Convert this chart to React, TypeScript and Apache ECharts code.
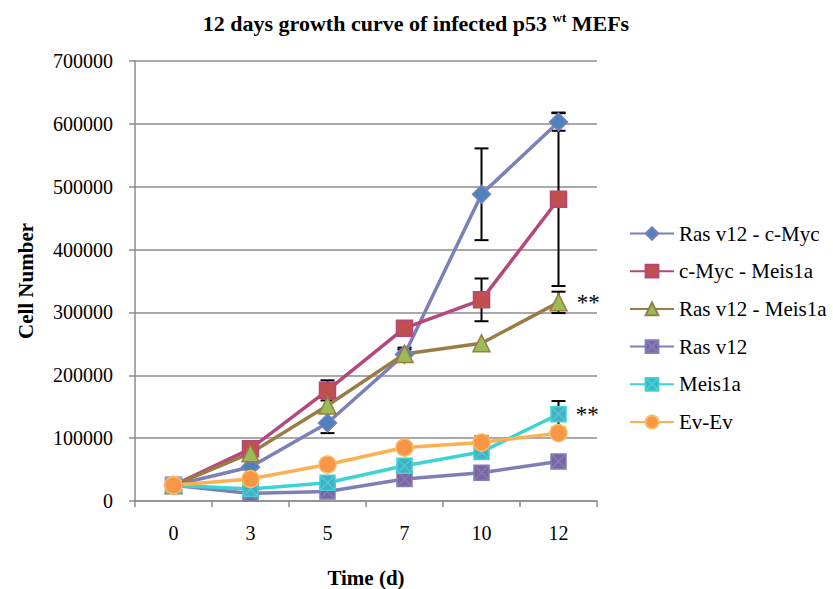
import React, { useEffect, useRef } from "react";
import * as echarts from "echarts";

const days = ["0", "3", "5", "7", "10", "12"];
const yTicks = [0, 100000, 200000, 300000, 400000, 500000, 600000, 700000];

const seriesNames = ["Ras v12 - c-Myc", "c-Myc - Meis1a", "Ras v12 - Meis1a", "Ras v12", "Meis1a", "Ev-Ev"];

const rasMyc = [25000, 54000, 124000, 233000, 488000, 603000];
const mycMeis = [25000, 83000, 176000, 275000, 320000, 480000];
const rasMeis = [25000, 76000, 152000, 234000, 251000, 316000];
const ras = [25000, 12000, 15000, 35000, 45000, 63000];
const meis = [25000, 19000, 29000, 56000, 78000, 138000];
const evEv = [25000, 35000, 58000, 85000, 93000, 108000];

const rasMycErr = [0, 0, 16000, 8000, 73000, 14000];
const mycMeisErr = [0, 0, 16000, 0, 34000, 138000];
const rasMeisErr = [0, 0, 0, 10000, 0, 17000];
const rasErr = [0, 0, 0, 0, 0, 0];
const meisErr = [0, 0, 0, 0, 0, 21000];
const evEvErr = [0, 0, 0, 0, 10000, 0];

const starred = [false, false, true, false, true, false];

const FONT = "Liberation Serif, Times New Roman, serif";
const crossSquare = "path://M0 0 H10 V10 H0 Z M0 0 L10 10 M10 0 L0 10";

export default function App() {
  const ref = useRef<HTMLDivElement>(null);
  useEffect(() => {
    if (!ref.current) return;
    const chart = echarts.init(ref.current, null, { renderer: "svg" });
    const values = [rasMyc, mycMeis, rasMeis, ras, meis, evEv];
    const errs = [rasMycErr, mycMeisErr, rasMeisErr, rasErr, meisErr, evEvErr];
    const styles = [
      { line: "#7b80b8", fill: "#4f81bd", border: "#7b80b8", symbol: "diamond", size: 18 },
      { line: "#b5477a", fill: "#c0504d", border: "#b5477a", symbol: "rect", size: 16 },
      { line: "#9a7b45", fill: "#9bbb59", border: "#9a7b45", symbol: "triangle", size: 17 },
      { line: "#7f7fb5", fill: "#8064a2", border: "#7f7fb5", symbol: crossSquare, size: 15 },
      { line: "#3dd3d3", fill: "#4bacc6", border: "#3dd3d3", symbol: crossSquare, size: 15 },
      { line: "#fdb04f", fill: "#f79646", border: "#ffba60", symbol: "circle", size: 17 },
    ];
    const errData: number[][] = [];
    errs.forEach((arr, s) => {
      arr.forEach((e, i) => {
        if (e > 0) errData.push([i, values[s][i] - e, values[s][i] + e]);
      });
    });
    const lineSeries = seriesNames.map((name, s) => ({
      name,
      type: "line",
      z: 3,
      data: values[s].map((v, i) =>
        starred[s] && i === values[s].length - 1
          ? {
              value: v,
              label: {
                show: true,
                position: "right",
                distance: 9,
                formatter: "{s|**}",
                rich: { s: { fontFamily: FONT, fontSize: 23, color: "#000" } },
              },
            }
          : v
      ),
      symbol: styles[s].symbol,
      symbolSize: styles[s].size,
      lineStyle: { color: styles[s].line, width: 3.5 },
      itemStyle: { color: styles[s].fill, borderColor: styles[s].border, borderWidth: 1.5 },
      emphasis: { disabled: true },
    }));
    chart.setOption({
      animation: false,
      textStyle: { fontFamily: FONT },
      title: {
        text: "12 days growth curve of infected p53 {sup|wt} MEFs",
        left: 411,
        textAlign: "center",
        top: 6,
        textStyle: {
          fontFamily: FONT,
          fontSize: 22,
          fontWeight: "bold",
          color: "#000",
          rich: {
            sup: { fontFamily: FONT, fontSize: 13, fontWeight: "bold", color: "#000", padding: [0, 0, 11, 0] },
          },
        },
      },
      legend: {
        orient: "vertical",
        left: 624,
        top: 218,
        itemWidth: 44,
        itemHeight: 16,
        itemGap: 16.7,
        data: seriesNames,
        formatter: "{t|{name}}",
        textStyle: {
          fontFamily: FONT,
          fontSize: 21,
          color: "#000",
          rich: { t: { fontFamily: FONT, fontSize: 21, color: "#000" } },
        },
      },
      grid: { left: 135, right: 236, top: 61, bottom: 88, outerBoundsMode: "none" },
      xAxis: {
        type: "category",
        data: days,
        name: "Time (d)",
        nameLocation: "middle",
        nameGap: 66,
        nameTextStyle: { fontFamily: FONT, fontSize: 21, fontWeight: "bold", color: "#000" },
        axisLine: { lineStyle: { color: "#8c8c8c", width: 1.5 } },
        axisTick: { show: true, length: 6, lineStyle: { color: "#8c8c8c", width: 1.5 } },
        axisLabel: { fontFamily: FONT, fontSize: 20, color: "#000", margin: 22 },
        splitLine: { show: false },
      },
      yAxis: {
        type: "value",
        min: 0,
        max: 700000,
        interval: 100000,
        name: "Cell Number",
        nameLocation: "middle",
        nameGap: 99,
        nameTextStyle: { fontFamily: FONT, fontSize: 21, fontWeight: "bold", color: "#000" },
        axisLine: { show: true, lineStyle: { color: "#8c8c8c", width: 1.5 } },
        axisTick: { show: true, length: 6, lineStyle: { color: "#8c8c8c", width: 1.5 } },
        axisLabel: {
          fontFamily: FONT,
          fontSize: 20,
          color: "#000",
          margin: 22,
          formatter: (v: number) => (yTicks.includes(v) ? String(v) : ""),
        },
        splitLine: { show: true, lineStyle: { color: "#8c8c8c", width: 1.5 } },
      },
      series: [
        {
          type: "custom",
          name: "errors",
          z: 2,
          data: errData,
          renderItem: (params: any, api: any) => {
            const x = api.value(0);
            const lo = api.coord([x, api.value(1)]);
            const hi = api.coord([x, api.value(2)]);
            const w = 7;
            const st = { stroke: "#000", lineWidth: 2 };
            return {
              type: "group",
              children: [
                { type: "line", shape: { x1: lo[0], y1: lo[1], x2: hi[0], y2: hi[1] }, style: st },
                { type: "line", shape: { x1: lo[0] - w, y1: lo[1], x2: lo[0] + w, y2: lo[1] }, style: st },
                { type: "line", shape: { x1: hi[0] - w, y1: hi[1], x2: hi[0] + w, y2: hi[1] }, style: st },
              ],
            };
          },
        },
        ...lineSeries,
      ],
    });
    return () => chart.dispose();
  }, []);
  return <div ref={ref} style={{ position: "absolute", left: 0, top: 0, width: 833, height: 589 }} />;
}
